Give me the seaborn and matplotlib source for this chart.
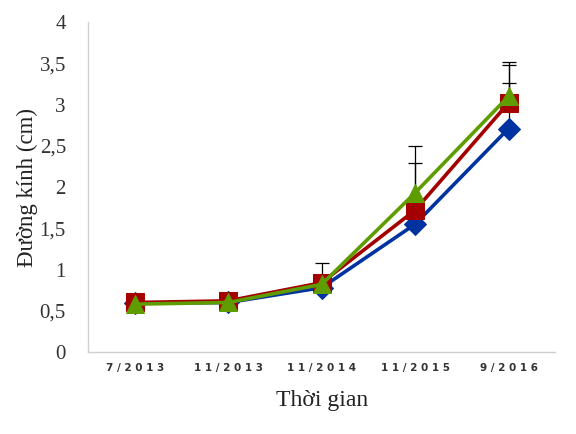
import numpy as np
import pandas as pd
import matplotlib
matplotlib.use("Agg")
import matplotlib.pyplot as plt
from matplotlib.ticker import FuncFormatter
import seaborn as sns

# data
times = ["7/2013", "11/2013", "11/2014", "11/2015", "9/2016"]
blue_vals = [0.59, 0.60, 0.78, 1.55, 2.71]
red_vals = [0.60, 0.62, 0.84, 1.72, 3.02]
green_vals = [0.58, 0.60, 0.82, 1.93, 3.10]
# upper error bars only (0 = none visible)
blue_err = [0, 0, 0, 0.74, 0.81]
red_err = [0, 0, 0.24, 0.78, 0.46]
green_err = [0, 0, 0, 0.0, 0.16]

series = [
    ("A", blue_vals, blue_err, "#0033a0", "D", 11),
    ("B", red_vals, red_err, "#a50000", "s", 12.5),
    ("C", green_vals, green_err, "#5f9c00", "^", 13.5),
]

sns.set_theme(style="white")
plt.rcParams["font.family"] = ["Liberation Serif", "DejaVu Serif"]

fig = plt.figure(figsize=(5.76, 4.34), dpi=100)
ax = fig.add_axes([0.153, 0.189, 0.811, 0.760])

pos = np.arange(len(times))
for name, vals, err, col, mk, ms in series:
    df = pd.DataFrame({"x": pos, "y": vals})
    sns.lineplot(data=df, x="x", y="y", ax=ax, color=col, lw=2.6,
                 marker=mk, markersize=ms, markeredgecolor=col, zorder=3)

# error bars, behind the markers so they only show above them
for name, vals, err, col, mk, ms in series:
    e = np.array(err)
    m = e > 0
    if m.any():
        ax.errorbar(pos[m], np.array(vals)[m], yerr=[np.zeros(m.sum()), e[m]],
                    fmt="none", ecolor="black", elinewidth=0.9, capsize=5,
                    capthick=0.9, zorder=2.5)

ax.set_xlim(-0.5, len(times) - 0.5)
ax.set_ylim(0, 4)
ax.set_yticks(np.arange(0, 4.01, 0.5))
ax.yaxis.set_major_formatter(FuncFormatter(lambda v, p: f"{v:g}".replace(".", ",")))
ax.set_xticks(pos)
ax.set_xticklabels([" ".join(t) for t in times], family="DejaVu Sans",
                   fontsize=7.5, fontweight="bold", color="#333333")
ax.tick_params(axis="x", length=0, pad=8)
ax.tick_params(axis="y", length=0, pad=16, labelsize=15, labelcolor="#333333")

for s in ["top", "right"]:
    ax.spines[s].set_visible(False)
for s in ["left", "bottom"]:
    ax.spines[s].set_color("#d0d0d0")
    ax.spines[s].set_linewidth(1)

ax.set_xlabel("Thời gian", fontsize=17, color="#222222")
ax.xaxis.set_label_coords(0.5, -0.115)
ax.set_ylabel("Đường kính (cm)", fontsize=16.5, color="#222222")
ax.yaxis.set_label_coords(-0.108, 0.50)

fig.savefig("out.png", dpi=100)
